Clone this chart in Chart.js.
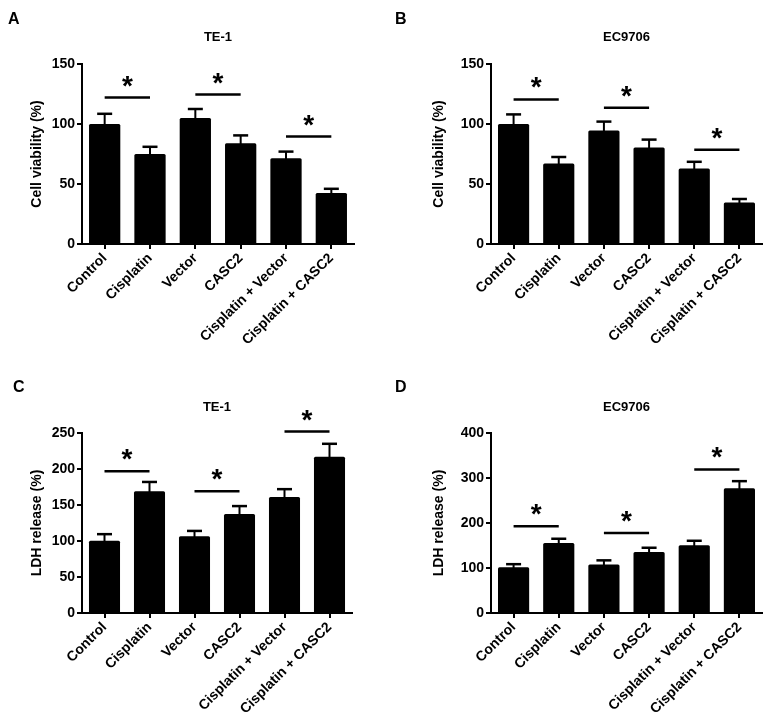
<!DOCTYPE html>
<html lang="en">
<head>
  <meta charset="UTF-8">
  <title>Cell viability and LDH release</title>
  <style>
    * { box-sizing: border-box; margin: 0; padding: 0; }
    body { width: 765px; height: 722px; background: #fff; position: relative; overflow: hidden; }
    .panel { position: absolute; }
    #pA { left: 0; top: 0; width: 380px; height: 360px; }
    #pB { left: 380px; top: 0; width: 385px; height: 360px; }
    #pC { left: 0; top: 360px; width: 380px; height: 362px; }
    #pD { left: 380px; top: 360px; width: 385px; height: 362px; }
  </style>
</head>
<body>
  <div class="panel" id="pA"><canvas id="chartA"></canvas></div>
  <div class="panel" id="pB"><canvas id="chartB"></canvas></div>
  <div class="panel" id="pC"><canvas id="chartC"></canvas></div>
  <div class="panel" id="pD"><canvas id="chartD"></canvas></div>

  <script src="https://cdn.jsdelivr.net/npm/chart.js"></script>
  <script>
    // values (mean and upper error)
    const categories = ['Control', 'Cisplatin', 'Vector', 'CASC2', 'Cisplatin + Vector', 'Cisplatin + CASC2'];

    const viabilityTE1    = [100, 75, 105, 84, 71.5, 42.5];
    const viabilityTE1Err = [8.5, 6, 7.5, 6.5, 5.5, 3.5];
    const viabilityEC     = [100, 67, 94.5, 80.5, 63, 34.5];
    const viabilityECErr  = [8, 5.5, 7.5, 6.5, 5.5, 3];
    const ldhTE1          = [100.5, 169, 106.5, 137.5, 161, 217];
    const ldhTE1Err       = [9, 13, 7.5, 11, 11, 18];
    const ldhEC           = [101.5, 155.5, 108, 135.5, 150.5, 277];
    const ldhECErr        = [7, 9.5, 9, 9.5, 10, 16];

    // significance brackets: which bars, and at what height
    const sigPairs        = [[0, 1], [2, 3], [4, 5]];
    const sigViabilityTE1 = [122, 124.5, 89.5];
    const sigViabilityEC  = [120.5, 113.5, 78.5];
    const sigLdhTE1       = [197, 169, 252];
    const sigLdhEC        = [193, 178, 319];

    const viabilityTicks = [0, 50, 100, 150];
    const ldhTE1Ticks    = [0, 50, 100, 150, 200, 250];
    const ldhECTicks     = [0, 100, 200, 300, 400];

    const FONT = 'Arial, "Liberation Sans", sans-serif';

    // error caps, significance lines, stars, title and panel letter
    const annotate = {
      id: 'annotate',
      afterDatasetsDraw(chart, args, opts) {
        const { ctx, chartArea } = chart;
        const xs = chart.scales.x, ys = chart.scales.y;
        const ds = chart.data.datasets[0];
        const meta = chart.getDatasetMeta(0);
        ctx.save();
        ctx.strokeStyle = '#000';
        ctx.fillStyle = '#000';
        ctx.lineCap = 'butt';

        meta.data.forEach((bar, i) => {
          const top = ys.getPixelForValue(ds.data[i] + ds.errors[i]);
          ctx.lineWidth = 2;
          ctx.beginPath();
          ctx.moveTo(bar.x, bar.y + 1);
          ctx.lineTo(bar.x, top);
          ctx.stroke();
          ctx.lineWidth = 2.5;
          ctx.beginPath();
          ctx.moveTo(bar.x - 7.5, top);
          ctx.lineTo(bar.x + 7.5, top);
          ctx.stroke();
        });

        ctx.font = 'bold 28px ' + FONT;
        ctx.textAlign = 'center';
        ctx.textBaseline = 'alphabetic';
        opts.pairs.forEach((p, k) => {
          const x1 = xs.getPixelForValue(p[0]);
          const x2 = xs.getPixelForValue(p[1]);
          const y = ys.getPixelForValue(opts.levels[k]);
          ctx.lineWidth = 2.5;
          ctx.beginPath();
          ctx.moveTo(x1, y);
          ctx.lineTo(x2, y);
          ctx.stroke();
          ctx.fillText('*', (x1 + x2) / 2, y - 3);
        });

        ctx.font = 'bold 13px ' + FONT;
        ctx.textBaseline = 'middle';
        ctx.fillText(opts.title, (chartArea.left + chartArea.right) / 2, chartArea.top - opts.titleGap);

        ctx.font = 'bold 16px ' + FONT;
        ctx.textAlign = 'left';
        ctx.fillText(opts.letter, opts.letterX, opts.letterY);
        ctx.restore();
      }
    };

    function makeChart(id, cfg) {
      return new Chart(document.getElementById(id), {
        type: 'bar',
        data: {
          labels: categories,
          datasets: [{
            data: cfg.values,
            errors: cfg.errors,
            backgroundColor: '#000',
            borderColor: '#000',
            borderWidth: 0,
            borderRadius: 1.5,
            borderSkipped: 'bottom',
            categoryPercentage: 1,
            barPercentage: 0.69
          }]
        },
        options: {
          responsive: true,
          maintainAspectRatio: false,
          animation: false,
          events: [],
          layout: { padding: cfg.padding },
          plugins: {
            legend: { display: false },
            tooltip: { enabled: false },
            annotate: {
              pairs: sigPairs,
              levels: cfg.sig,
              title: cfg.title,
              titleGap: cfg.titleGap,
              letter: cfg.letter,
              letterX: cfg.letterX,
              letterY: cfg.letterY
            }
          },
          scales: {
            x: {
              afterFit: s => { s.height = cfg.xHeight; },
              border: { display: true, color: '#000', width: 2 },
              grid: { drawOnChartArea: false, offset: false, color: '#000', lineWidth: 2, tickLength: 5 },
              ticks: {
                color: '#000', autoSkip: false, minRotation: 45, maxRotation: 45, padding: 1,
                font: { family: FONT, size: 14, weight: 'bold' }
              }
            },
            y: {
              min: cfg.ticks[0],
              max: cfg.ticks[cfg.ticks.length - 1],
              afterFit: s => { s.width = cfg.yWidth; },
              afterBuildTicks: s => { s.ticks = cfg.ticks.map(v => ({ value: v })); },
              border: { display: true, color: '#000', width: 2 },
              grid: { drawOnChartArea: false, color: '#000', lineWidth: 2, tickLength: 5 },
              ticks: { color: '#000', padding: 2, font: { family: FONT, size: 14, weight: 'bold' } },
              title: {
                display: true, text: cfg.yTitle, color: '#000', padding: 4,
                font: { family: FONT, size: 14, weight: 'bold' }
              }
            }
          }
        },
        plugins: [annotate]
      });
    }

    makeChart('chartA', {
      values: viabilityTE1, errors: viabilityTE1Err, sig: sigViabilityTE1, ticks: viabilityTicks,
      title: 'TE-1', letter: 'A', letterX: 8, letterY: 20, titleGap: 27,
      yTitle: 'Cell viability (%)', yWidth: 57, xHeight: 116,
      padding: { left: 25, right: 26, top: 64, bottom: 0 }
    });
    makeChart('chartB', {
      values: viabilityEC, errors: viabilityECErr, sig: sigViabilityEC, ticks: viabilityTicks,
      title: 'EC9706', letter: 'B', letterX: 15, letterY: 20, titleGap: 27,
      yTitle: 'Cell viability (%)', yWidth: 64, xHeight: 116,
      padding: { left: 47, right: 3, top: 64, bottom: 0 }
    });
    makeChart('chartC', {
      values: ldhTE1, errors: ldhTE1Err, sig: sigLdhTE1, ticks: ldhTE1Ticks,
      title: 'TE-1', letter: 'C', letterX: 13, letterY: 28, titleGap: 26,
      yTitle: 'LDH release (%)', yWidth: 57, xHeight: 109,
      padding: { left: 25, right: 28, top: 73, bottom: 0 }
    });
    makeChart('chartD', {
      values: ldhEC, errors: ldhECErr, sig: sigLdhEC, ticks: ldhECTicks,
      title: 'EC9706', letter: 'D', letterX: 15, letterY: 28, titleGap: 26,
      yTitle: 'LDH release (%)', yWidth: 64, xHeight: 109,
      padding: { left: 47, right: 3, top: 73, bottom: 0 }
    });
  </script>
</body>
</html>
